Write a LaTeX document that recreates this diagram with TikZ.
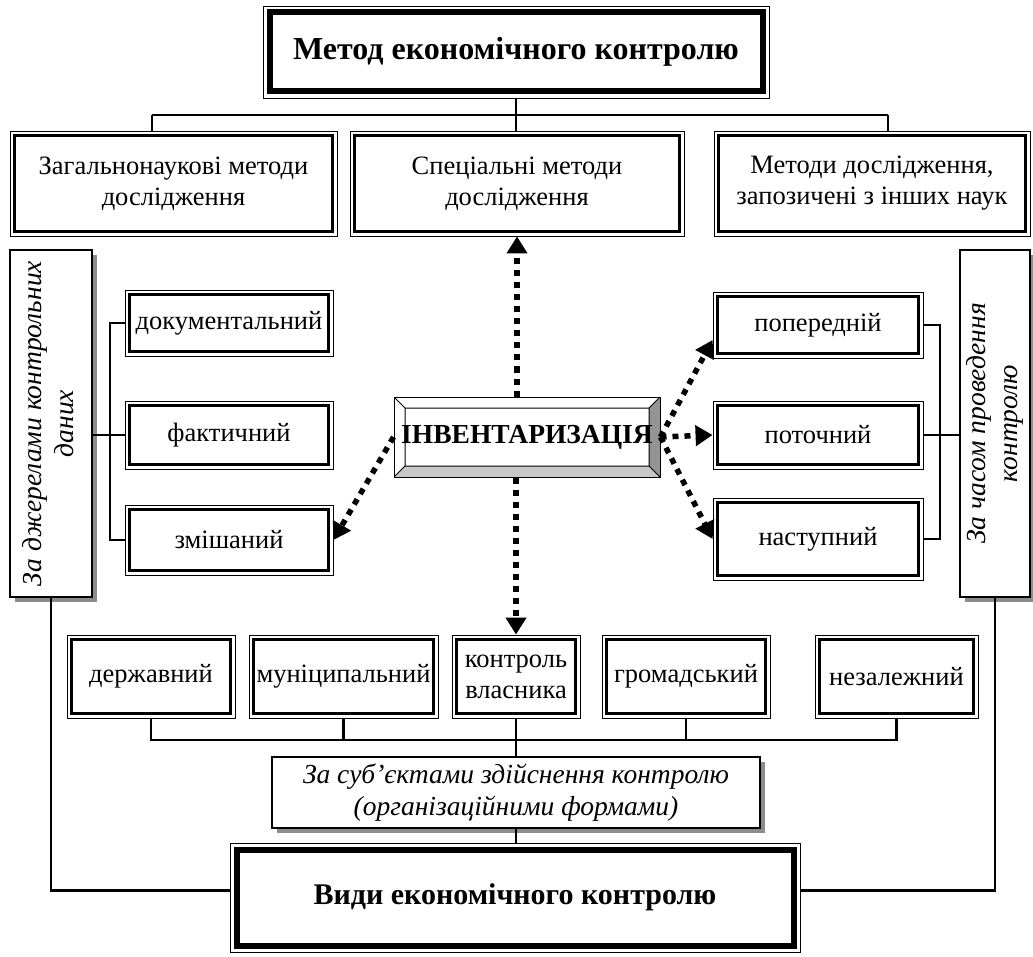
\documentclass[tikz,border=0pt]{standalone}
\usepackage{fontspec}
\setmainfont{Liberation Serif}
\usepackage{graphicx}
\usetikzlibrary{arrows.meta,shadows,calc}
\begin{document}
\begin{tikzpicture}[x=1pt,y=-1pt,
  dbox/.style={draw,line width=0.9pt,fill=white,align=center,inner sep=0pt,
    font=\fontsize{26.5}{31}\selectfont,
    path picture={\draw[line width=2.6pt]
      ([shift={(4.6pt,-4.6pt)}]path picture bounding box.north west) rectangle
      ([shift={(-4.6pt,4.6pt)}]path picture bounding box.south east);}},
  mainbox/.style={draw,line width=0.9pt,fill=white,align=center,inner sep=0pt,
    font=\fontsize{30}{36}\selectfont\bfseries,
    path picture={\draw[line width=6pt]
      ([shift={(6.5pt,-6.5pt)}]path picture bounding box.north west) rectangle
      ([shift={(-6.5pt,6.5pt)}]path picture bounding box.south east);}},
  sbox/.style={draw,line width=2.4pt,fill=white,align=center,inner sep=0pt,
    font=\fontsize{27.5}{32}\selectfont\itshape,
    drop shadow={shadow xshift=5pt,shadow yshift=-5pt,fill=black!45,opacity=1}},
  bevel/.style={draw,line width=1pt,fill=white,inner sep=0pt,
    font=\fontsize{27.5}{32}\selectfont\bfseries,
    path picture={
      \coordinate (bNW) at (path picture bounding box.north west);
      \coordinate (bSE) at (path picture bounding box.south east);
      \coordinate (bNE) at (path picture bounding box.north east);
      \coordinate (bSW) at (path picture bounding box.south west);
      \coordinate (iNW) at ($(bNW)+(11pt,-11pt)$);
      \coordinate (iNE) at ($(bNE)+(-11pt,-11pt)$);
      \coordinate (iSE) at ($(bSE)+(-11pt,11pt)$);
      \coordinate (iSW) at ($(bSW)+(11pt,11pt)$);
      \fill[black!22] (bSW) -- (bSE) -- (iSE) -- (iSW) -- cycle;
      \fill[black!42] (bNE) -- (bSE) -- (iSE) -- (iNE) -- cycle;
      \draw[line width=1pt] (iNW) rectangle (iSE) (bNW) -- (iNW) (bNE) -- (iNE)
        (bSW) -- (iSW) (bSE) -- (iSE);}},
  link/.style={line width=2.2pt},
  darr/.style={line width=5.5pt,dash pattern=on 6pt off 6pt,
    -{Triangle[width=20pt,length=17pt]}},
]
\useasboundingbox (0,0) rectangle (1033,957);

% top
\node[mainbox,minimum width=506pt,minimum height=92pt,font=\fontsize{32}{38}\selectfont\bfseries] (title) at (516,52) {Метод економічного контролю};
\node[dbox,minimum width=327pt,minimum height=105pt] (gen) at (173.5,183.5) {Загальнонаукові методи\\дослідження};
\node[dbox,minimum width=334pt,minimum height=105pt] (spec) at (517,183.5) {Спеціальні методи\\дослідження};
\node[dbox,minimum width=316pt,minimum height=105pt] (borr) at (872,183.5) {Методи дослідження,\\запозичені з інших наук};

% side boxes
\node[sbox,minimum width=82pt,minimum height=347pt] (lvb) at (51,423.5)
  {\rotatebox{90}{\begin{tabular}{@{}c@{}}За джерелами контрольних\\даних\end{tabular}}};
\node[sbox,minimum width=70pt,minimum height=347pt] (rvb) at (995,423.5)
  {\rotatebox{90}{\begin{tabular}{@{}c@{}}За часом проведення\\контролю\end{tabular}}};

% left group
\node[dbox,minimum width=208pt,minimum height=66pt] (doc) at (229,323) {документальний};
\node[dbox,minimum width=208pt,minimum height=68pt] (fact) at (229,435) {фактичний};
\node[dbox,minimum width=208pt,minimum height=70pt] (mix) at (229,540) {змішаний};

% right group
\node[dbox,minimum width=210pt,minimum height=66pt] (pre) at (818,325) {попередній};
\node[dbox,minimum width=210pt,minimum height=68pt] (cur) at (818,435) {поточний};
\node[dbox,minimum width=210pt,minimum height=82pt] (nxt) at (818,539) {наступний};

% centre
\node[bevel,minimum width=266pt,minimum height=80pt] (inv) at (527,437) {ІНВЕНТАРИЗАЦІЯ};

% bottom row
\node[dbox,minimum width=168pt,minimum height=83pt] (st) at (151,676.5) {державний};
\node[dbox,minimum width=189pt,minimum height=83pt] (mun) at (343.5,676.5) {муніципальний};
\node[dbox,minimum width=128pt,minimum height=83pt] (own) at (516,676.5) {контроль\\власника};
\node[dbox,minimum width=168pt,minimum height=83pt] (gro) at (686,676.5) {громадський};
\node[dbox,minimum width=163pt,minimum height=83pt] (ind) at (896.5,676.5) {незалежний};

\node[sbox,minimum width=488pt,minimum height=71pt] (subj) at (516,792.5)
  {За суб’єктами здійснення контролю\\(організаційними формами)};
\node[mainbox,minimum width=570pt,minimum height=109pt] (types) at (515,897.5) {Види економічного контролю};

% connectors
\coordinate (busL) at (152,115);
\coordinate (busR) at (888,115);
\draw[link] (busL) -- (busR);
\draw[link] (busL) -- (busL |- gen.north);
\draw[link] (busR) -- (busR |- borr.north);
\draw[link] (title.south) -- (title.south |- spec.north);

\coordinate (lb) at (110,435);
\draw[link] (doc.west) -| (lb) |- (mix.west);
\draw[link] (lvb.east |- fact.west) -- (fact.west);
\coordinate (rb) at (940,435);
\draw[link] (pre.east) -| (rb) |- (nxt.east);
\draw[link] (cur.east) -- (rvb.west |- cur.east);

\coordinate (bb) at (516,740);
\draw[link] (st.south) -- (st.south |- bb) -- (ind.south |- bb) -- (ind.south);
\foreach \n in {mun,own,gro} \draw[link] (\n.south) -- (\n.south |- bb);
\draw[link] (own.south |- bb) -- (subj.north);
\draw[link] (subj.south) -- (subj.south |- types.north);
\draw[link] (lvb.south) |- ([yshift=7pt]types.west);
\draw[link] (rvb.south) |- ([yshift=7pt]types.east);

% dotted arrows
\draw[darr] (inv.north -| spec.south) -- (spec.south);
\draw[darr] (inv.south -| own.north) -- (own.north);
\draw[darr] (inv.west) -- (mix.east);
\draw[darr] (inv.east) -- ([yshift=-15pt]pre.west);
\draw[darr] (inv.east) -- (cur.west);
\draw[darr] (inv.east) -- (nxt.west);
\end{tikzpicture}
\end{document}
